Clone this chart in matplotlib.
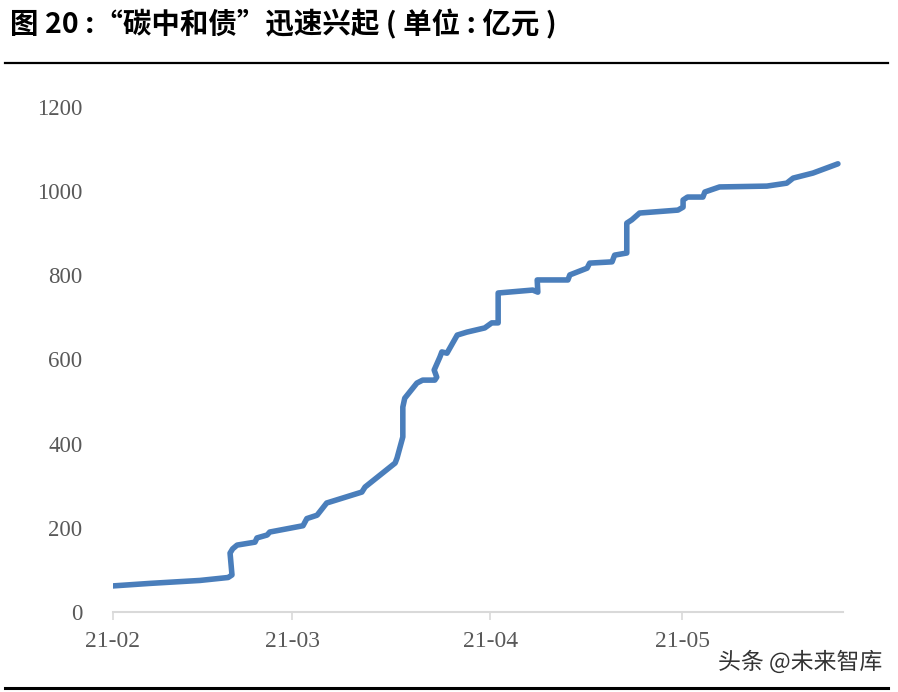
import datetime as dt
import numpy as np
import matplotlib
matplotlib.use('Agg')
import matplotlib.pyplot as plt
import matplotlib.dates as mdates
import matplotlib.patheffects as pe

plt.rcParams['font.family'] = ['Noto Sans CJK SC', 'DejaVu Sans']

#---Data: days since 2021-02-01, cumulative issuance (亿元)
days = [0, 5.8, 13.6, 18.0, 18.6, 18.3, 18.7, 19.4, 22.2, 22.5, 24.1, 24.5,
        29.7, 30.3, 31.9, 33.4, 38.9, 39.4, 44.1, 44.4, 45.3, 45.3, 45.6,
        47.5, 48.4, 50.3, 50.6, 50.2, 51.1, 51.4, 52.2, 53.8, 55.3, 58.1,
        59.2, 60.2, 60.2, 65.6, 66.4, 66.3, 71.1, 71.4, 74.1, 74.5, 78.0,
        78.4, 80.3, 80.3, 81.1, 82.3, 88.3, 89.1, 89.1, 89.8, 92.2, 92.5,
        94.8, 102.2, 105.3, 106.3, 109.4, 113.3]
values = [62, 68, 75, 82, 88, 140, 150, 159, 166, 176, 183, 190,
          205, 222, 230, 259, 285, 297, 354, 366, 416, 487, 508,
          544, 551, 551, 558, 575, 606, 618, 615, 658, 665, 675,
          687, 687, 758, 765, 760, 789, 789, 801, 817, 829, 832,
          848, 853, 924, 932, 948, 955, 962, 979, 986, 986, 998,
          1010, 1012, 1019, 1031, 1043, 1065]
tick_labels = ['21-02', '21-03', '21-04', '21-05']
tick_dates = [dt.date(2021, 2, 1), dt.date(2021, 3, 1),
              dt.date(2021, 4, 1), dt.date(2021, 5, 1)]
yticks = [0, 200, 400, 600, 800, 1000, 1200]

start = dt.datetime(2021, 2, 1)
x = [mdates.date2num(start + dt.timedelta(days=d)) for d in days]

fig = plt.figure(figsize=(8.98, 6.92), dpi=100)
ax = fig.add_axes([0.1258, 0.1156, 0.9388 - 0.1258, 0.8454 - 0.1156])

ax.plot(x, values, color='#4a7ebb', lw=4, solid_joinstyle='round',
        solid_capstyle='round', zorder=3)

ax.set_ylim(0, 1200)
ax.set_xlim(mdates.date2num(start), mdates.date2num(start) + 114.1)
ax.set_yticks(yticks)
ax.set_xticks([mdates.date2num(d) for d in tick_dates])
ax.set_xticklabels(tick_labels)

for s in ['left', 'right', 'top']:
    ax.spines[s].set_visible(False)
ax.spines['bottom'].set_color('#d9d9d9')
ax.spines['bottom'].set_linewidth(1.5)
ax.tick_params(axis='y', length=0, pad=22, labelsize=16.5, labelcolor='#595959')
ax.tick_params(axis='x', length=6, width=1.2, color='#d9d9d9', pad=8,
               labelsize=17, labelcolor='#595959')
for lab in ax.get_xticklabels() + ax.get_yticklabels():
    lab.set_family('Liberation Serif')

#---Title and frame lines
fig.text(10 / 898, 1 - 24 / 692, '图 20 :“碳中和债”迅速兴起 ( 单位 : 亿元 )',
         fontsize=20.5, fontweight='bold', color='black', va='center', ha='left')
fig.add_artist(plt.Line2D([5 / 898, 888 / 898], [1 - 63 / 692] * 2,
                          color='black', lw=1.6))
fig.add_artist(plt.Line2D([5 / 898, 888 / 898], [1 - 688 / 692] * 2,
                          color='black', lw=2.2))

fig.text(882 / 898, 1 - 662 / 692, '头条 @未来智库', fontsize=16.5, color='#333333',
         ha='right', va='center',
         path_effects=[pe.withStroke(linewidth=2.5, foreground='white')])

fig.savefig('out.png', dpi=100, facecolor='white')
